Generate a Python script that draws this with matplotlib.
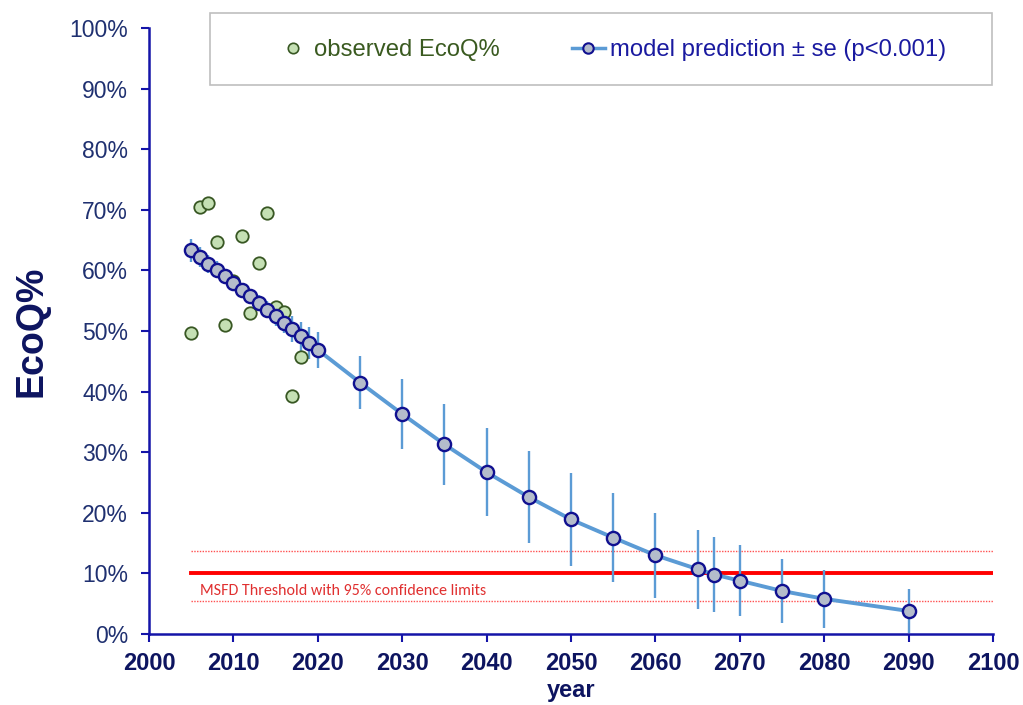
import matplotlib
matplotlib.use("Agg")
import matplotlib.pyplot as plt
from matplotlib.lines import Line2D
from matplotlib.patches import Rectangle

plt.rcParams['font.family'] = ['Liberation Sans', 'DejaVu Sans']

obs_years = [2005, 2006, 2007, 2008, 2009, 2010, 2011, 2012, 2013, 2014, 2015, 2016, 2017, 2018]
obs_vals = [49.7, 70.5, 71.2, 64.7, 51.0, 58.2, 65.6, 53.0, 61.2, 69.5, 54.0, 53.2, 39.3, 45.7]

model_years = [2005, 2006, 2007, 2008, 2009, 2010, 2011, 2012, 2013, 2014, 2015, 2016, 2017,
               2018, 2019, 2020, 2025, 2030, 2035, 2040, 2045, 2050, 2055, 2060, 2065, 2067,
               2070, 2075, 2080, 2090]
model_vals = [63.3, 62.2, 61.1, 60.1, 59.0, 57.9, 56.8, 55.7, 54.6, 53.5, 52.5, 51.4, 50.3,
              49.1, 48.0, 46.9, 41.5, 36.3, 31.3, 26.7, 22.6, 18.9, 15.9, 13.0, 10.7, 9.8,
              8.8, 7.1, 5.8, 3.8]
model_se = [1.9, 1.7, 1.5, 1.4, 1.3, 1.2, 1.2, 1.2, 1.3, 1.4, 1.6, 1.8, 2.1,
            2.4, 2.7, 3.0, 4.4, 5.7, 6.7, 7.3, 7.6, 7.6, 7.4, 7.0, 6.5, 6.2,
            5.9, 5.3, 4.8, 3.7]

threshold = 10.0
threshold_upper = 13.7
threshold_lower = 5.4

axis_blue = '#1414A8'
line_blue = '#5B9BD5'
green_face = '#C5E0B4'
green_edge = '#385723'
red = '#FF0000'

W, H = 1023, 705
fig = plt.figure(figsize=(W / 100, H / 100), dpi=100)
ax = fig.add_axes([149 / W, 1 - 634 / H, (993 - 149) / W, (634 - 28) / H])

# threshold lines
ax.plot([2005, 2100], [threshold, threshold], color=red, lw=2.8, zorder=1)
ax.plot([2005, 2100], [threshold_upper, threshold_upper], color='#FF5050', lw=1.0, ls=(0, (1, 1)), zorder=1)
ax.plot([2005, 2100], [threshold_lower, threshold_lower], color='#FF5050', lw=1.0, ls=(0, (1, 1)), zorder=1)
ax.text(2006.0, 7.1, 'MSFD Threshold with 95% confidence limits', color='#E03030',
        fontsize=11.5, family=['Carlito', 'Lato', 'DejaVu Sans'], va='center', ha='left')

# error bars
ax.errorbar(model_years, model_vals, yerr=model_se, fmt='none', ecolor=line_blue, elinewidth=1.7,
            capsize=0, zorder=2)
ax.plot(model_years, model_vals, color=line_blue, lw=2.8, zorder=3)
ax.scatter(model_years, model_vals, s=90, facecolor='#B4BCCB', edgecolor='#101090', linewidths=1.7, zorder=5)

# observed
ax.scatter(obs_years, obs_vals, s=80, facecolor=green_face, edgecolor=green_edge, linewidths=1.3, zorder=4)

ax.set_xlim(2000, 2100)
ax.set_ylim(0, 100)
ax.set_xticks(range(2000, 2101, 10))
ax.set_yticks(range(0, 101, 10))
ax.set_yticklabels([f'{v}%' for v in range(0, 101, 10)])
for lab in ax.get_xticklabels():
    lab.set_fontweight('bold')
ax.tick_params(axis='x', colors=axis_blue, labelcolor='#0D1460', labelsize=17, length=6, width=1.5,
               direction='out', pad=7)
ax.tick_params(axis='y', colors=axis_blue, labelcolor='#1F3070', labelsize=16.5, length=6, width=1.5,
               direction='out', pad=9)
for s in ['top', 'right']:
    ax.spines[s].set_visible(False)
for s in ['left', 'bottom']:
    ax.spines[s].set_color(axis_blue)
    ax.spines[s].set_linewidth(1.8)

ax.set_ylabel('EcoQ%', fontsize=27, fontweight='bold', color='#0D1460', labelpad=14)
ax.set_xlabel('year', fontsize=17, fontweight='bold', color='#0D1460', labelpad=3)

# legend box
fig.patches.append(Rectangle((210 / W, 1 - 85 / H), (992 - 210) / W, (85 - 13) / H,
                             transform=fig.transFigure, facecolor='white', edgecolor='#BFBFBF',
                             linewidth=1.2, zorder=0))
handles = [
    Line2D([], [], ls='none', marker='o', markersize=7.5, markerfacecolor=green_face,
           markeredgecolor=green_edge, markeredgewidth=1.2),
    Line2D([], [], color=line_blue, lw=2.5, marker='o', markersize=7.5, markerfacecolor='#B4BCCB',
           markeredgecolor='#101090', markeredgewidth=1.5),
]
leg = fig.legend(handles, ['observed EcoQ%', 'model prediction ± se (p<0.001)'],
                 loc='center left', bbox_to_anchor=(276 / W, 1 - 50 / H), ncol=2,
                 fontsize=17.2, frameon=False, borderpad=0, handlelength=1.4,
                 handletextpad=0.2, columnspacing=3.0, borderaxespad=0)
texts = leg.get_texts()
texts[0].set_color('#3A5A20')
texts[1].set_color('#1A1AA0')

fig.savefig('out.png', dpi=100)
